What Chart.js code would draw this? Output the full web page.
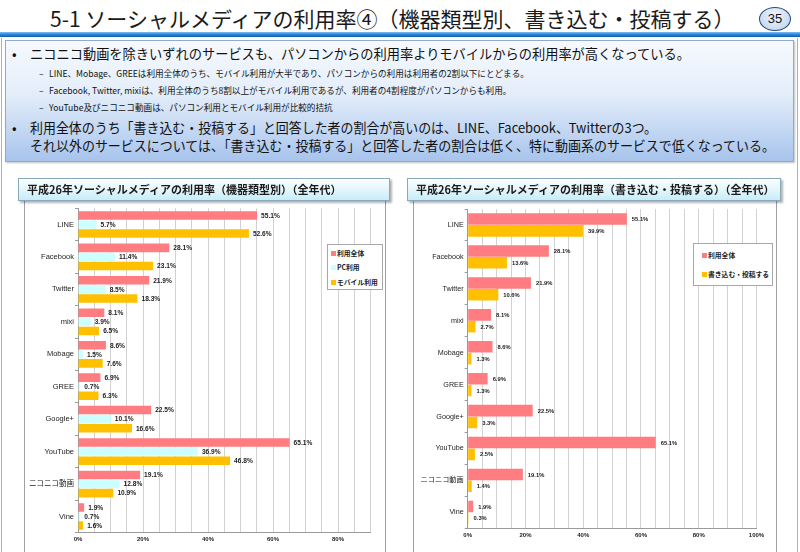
<!DOCTYPE html>
<html><head><meta charset="utf-8">
<script src="https://cdn.jsdelivr.net/npm/chart.js@4"></script>
<style>
body{margin:0;width:800px;height:552px;overflow:hidden;background:#fff;position:relative;font-family:"Noto Sans CJK JP","Liberation Sans",sans-serif;color:#111;}
.abs{position:absolute;white-space:nowrap;}
#title{left:50px;top:4px;font-size:21px;line-height:28px;color:#1a1a1a;}
#badge{left:759px;top:7px;width:30px;height:22px;border:1px solid #2a4a7a;border-radius:50%;background:radial-gradient(ellipse at 50% 35%,#f2f7fd 0%,#c9dbf2 70%,#9fbce3 100%);font-family:"Liberation Sans",sans-serif;font-size:13px;line-height:22px;text-align:center;color:#111;}
#rule{left:0;top:32px;width:800px;height:5px;background:linear-gradient(#7cc0f4,#2b82d6 50%,#0f5fb5);}
#frame{left:1px;top:38px;width:795px;height:520px;border-left:1px solid #b0b0b0;border-right:1px solid #b0b0b0;}
#box{left:5px;top:40px;width:787px;height:120px;border:1px solid #8ea9d2;background:linear-gradient(to bottom,#f7fafe 0%,#e3edfa 45%,#a7c4ec 100%);box-shadow:1px 1px 2px rgba(0,0,0,0.25);}
.b1{font-size:13.5px;line-height:16px;transform-origin:0 50%;}
.b2{font-size:8.6px;line-height:11px;}
.panel{border:1px solid #a0a0a0;background:#fff;}
.hdr{border:1px solid #86a9bd;background:linear-gradient(to bottom,#fbfeff 0%,#e4f6fc 50%,#c8ecf7 100%);box-shadow:2px 2px 2px rgba(0,0,0,0.3);font-weight:bold;font-size:11px;line-height:21px;padding-left:8px;box-sizing:border-box;color:#1a1a1a;}
.legend{border:1px solid #a8a8a8;background:#fff;box-sizing:border-box;font-weight:bold;font-size:6.8px;color:#222;}
.sw{position:absolute;width:5px;height:5px;}
.lt{position:absolute;line-height:8px;}
canvas{position:absolute;}
</style></head><body>
<div class="abs" id="frame"></div>
<div class="abs" id="title">5-1 ソーシャルメディアの利用率④（機器類型別、書き込む・投稿する）</div>
<div class="abs" id="badge">35</div>
<div class="abs" id="rule"></div>
<div class="abs" id="box"></div>
<div class="abs b1" style="left:12px;top:45px;">•</div>
<div class="abs b1 fit" data-w="660" style="left:30px;top:45px;">ニコニコ動画を除きいずれのサービスも、パソコンからの利用率よりモバイルからの利用率が高くなっている。</div>
<div class="abs b2" style="left:39px;top:68px;">–</div>
<div class="abs b2" style="left:49px;top:68px;">LINE、Mobage、GREEは利用全体のうち、モバイル利用が大半であり、パソコンからの利用は利用者の2割以下にとどまる。</div>
<div class="abs b2" style="left:39px;top:85px;">–</div>
<div class="abs b2" style="left:49px;top:85px;">Facebook, Twitter, mixiは、利用全体のうち8割以上がモバイル利用であるが、利用者の4割程度がパソコンからも利用。</div>
<div class="abs b2" style="left:39px;top:102px;">–</div>
<div class="abs b2" style="left:49px;top:102px;">YouTube及びニコニコ動画は、パソコン利用とモバイル利用が比較的拮抗</div>
<div class="abs b1" style="left:12px;top:119px;">•</div>
<div class="abs b1 fit" data-w="627" style="left:30px;top:119px;">利用全体のうち「書き込む・投稿する」と回答した者の割合が高いのは、LINE、Facebook、Twitterの3つ。</div>
<div class="abs b1 fit" data-w="745" style="left:30px;top:137px;">それ以外のサービスについては、「書き込む・投稿する」と回答した者の割合は低く、特に動画系のサービスで低くなっている。</div>

<div class="abs panel" style="left:24px;top:190px;width:360px;height:370px;"></div>
<div class="abs panel" style="left:413px;top:190px;width:362px;height:370px;"></div>
<canvas id="c1" width="360" height="350" style="left:24px;top:201px;"></canvas>
<canvas id="c2" width="362" height="350" style="left:413px;top:201px;"></canvas>
<div class="abs hdr" style="left:18px;top:178px;width:372px;height:23px;">平成26年ソーシャルメディアの利用率（機器類型別）（全年代）</div>
<div class="abs hdr" style="left:407px;top:178px;width:374px;height:23px;">平成26年ソーシャルメディアの利用率（書き込む・投稿する）（全年代）</div>

<div class="abs legend" id="lg1" style="left:327px;top:244px;width:56px;height:46px;"></div>
<div class="abs legend" id="lg2" style="left:693px;top:243px;width:80px;height:43px;"></div>

<script>
// ---- data ----
const categories = ['LINE','Facebook','Twitter','mixi','Mobage','GREE','Google+','YouTube','ニコニコ動画','Vine'];
const usageAll    = [55.1, 28.1, 21.9, 8.1, 8.6, 6.9, 22.5, 65.1, 19.1, 1.9];
const usagePC     = [5.7, 11.4, 8.5, 3.9, 1.5, 0.7, 10.1, 36.9, 12.8, 0.7];
const usageMobile = [52.6, 23.1, 18.3, 6.5, 7.6, 6.3, 16.6, 46.8, 10.9, 1.6];
const usagePost   = [39.9, 13.6, 10.6, 2.7, 1.3, 1.3, 3.3, 2.5, 1.4, 0.3];
const leftSeriesNames  = ['利用全体','PC利用','モバイル利用'];
const rightSeriesNames = ['利用全体','書き込む・投稿する'];
const leftTickLabels  = ['0%','20%','40%','60%','80%'];
const rightTickLabels = ['0%','20%','40%','60%','80%','100%'];

const COL_ALL = '#FF7C80', COL_PC = '#CCFFFF', COL_MOB = '#FFC000';

// fit the long text lines to the widths seen in the reference
document.querySelectorAll('.fit').forEach(el => {
  const w = el.getBoundingClientRect().width;
  const target = parseFloat(el.dataset.w);
  el.style.transform = 'scaleX(' + (target / w) + ')';
});

Chart.defaults.font.family = '"Liberation Sans","Noto Sans CJK JP",sans-serif';

const valueLabels = {
  id: 'valueLabels',
  afterDatasetsDraw(chart, args, opts) {
    const ctx = chart.ctx;
    ctx.save();
    ctx.font = 'bold ' + opts.size + 'px "Liberation Sans",sans-serif';
    ctx.fillStyle = '#222';
    ctx.textBaseline = 'middle';
    ctx.textAlign = 'left';
    chart.data.datasets.forEach((ds, i) => {
      chart.getDatasetMeta(i).data.forEach((bar, j) => {
        ctx.fillText(ds.data[j].toFixed(1) + '%', bar.x + opts.offset, bar.y + 0.5);
      });
    });
    ctx.restore();
  }
};

function makeChart(id, datasets, o) {
  return new Chart(document.getElementById(id), {
    type: 'bar',
    data: { labels: categories, datasets },
    options: {
      indexAxis: 'y',
      responsive: false,
      animation: false,
      devicePixelRatio: 1,
      layout: { padding: { left: 0, right: o.padR, top: o.padT, bottom: 0 } },
      datasets: { bar: { categoryPercentage: o.catPct, barPercentage: o.barPct } },
      plugins: {
        legend: { display: false },
        tooltip: { enabled: false },
        valueLabels: { size: o.valSize, offset: o.valOff }
      },
      scales: {
        x: {
          min: 0, max: o.max,
          ticks: { stepSize: 5, autoSkip: false, maxRotation: 0, padding: 3, color: '#222',
                   font: { size: o.xTickSize, weight: 'bold' },
                   callback: (v) => (v % 20 === 0 ? o.tickLabels[v / 20] : '') },
          grid: { color: '#d2d2d2', drawTicks: false, lineWidth: 1 },
          border: { display: true, color: '#9a9a9a' },
          afterFit: (s) => { s.height = o.xH; }
        },
        y: {
          ticks: { autoSkip: false, padding: 1, color: '#222', font: { size: o.yTickSize } },
          grid: { drawOnChartArea: false, drawTicks: true, tickLength: 3, color: '#9a9a9a', offset: true },
          border: { display: true, color: '#9a9a9a' },
          afterFit: (s) => { s.width = o.yW; }
        }
      }
    },
    plugins: [valueLabels]
  });
}

makeChart('c1', [
  { label: leftSeriesNames[0], data: usageAll, backgroundColor: COL_ALL },
  { label: leftSeriesNames[1], data: usagePC, backgroundColor: COL_PC },
  { label: leftSeriesNames[2], data: usageMobile, backgroundColor: COL_MOB }
], { max: 90, tickLabels: leftTickLabels, padR: 13.5, padT: 7.3, xH: 18.3, yW: 54,
     catPct: 0.84, barPct: 0.94, valSize: 6.6, valOff: 4, xTickSize: 6, yTickSize: 7.5 });

makeChart('c2', [
  { label: rightSeriesNames[0], data: usageAll, backgroundColor: COL_ALL },
  { label: rightSeriesNames[1], data: usagePost, backgroundColor: COL_MOB }
], { max: 100, tickLabels: rightTickLabels, padR: 18.5, padT: 8, xH: 22.7, yW: 54.7,
     catPct: 0.74, barPct: 0.98, valSize: 5.8, valOff: 5, xTickSize: 6, yTickSize: 7.2 });

// HTML legends built from series names
function buildLegend(id, names, colors, rows) {
  const el = document.getElementById(id);
  names.forEach((n, i) => {
    const sw = document.createElement('div');
    sw.className = 'sw';
    sw.style.left = rows.sx + 'px';
    sw.style.top = (rows.y[i] - 2.5) + 'px';
    sw.style.background = colors[i];
    el.appendChild(sw);
    const t = document.createElement('div');
    t.className = 'lt';
    t.style.left = rows.tx + 'px';
    t.style.top = (rows.y[i] - 4) + 'px';
    t.textContent = n;
    el.appendChild(t);
  });
}
buildLegend('lg1', leftSeriesNames, [COL_ALL, COL_PC, COL_MOB], { sx: 3, tx: 9, y: [8, 22, 37] });
buildLegend('lg2', rightSeriesNames, [COL_ALL, COL_MOB], { sx: 8, tx: 14, y: [11, 30] });
</script>
</body></html>
